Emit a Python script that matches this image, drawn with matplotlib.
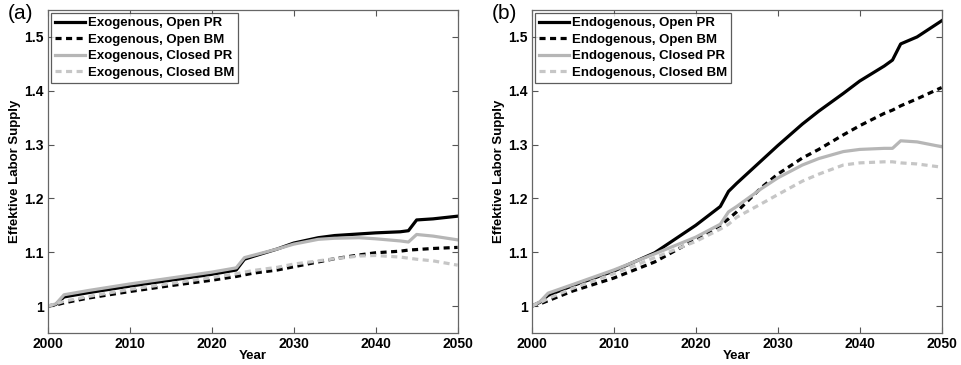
import numpy as np
import matplotlib
matplotlib.use('Agg')
import matplotlib.pyplot as plt

# Jahre der Stützpunkte
years = [2000, 2001, 2002, 2005, 2010, 2015, 2020, 2023, 2024, 2025, 2028,
         2030, 2033, 2035, 2038, 2040, 2043, 2044, 2045, 2047, 2050]

# (a) exogene Arbeitszeit
exo_open_pr = [1.0, 1.003, 1.017, 1.025, 1.037, 1.048, 1.059, 1.067, 1.087, 1.092, 1.106,
               1.117, 1.127, 1.131, 1.134, 1.136, 1.138, 1.140, 1.160, 1.162, 1.167]
exo_open_bm = [1.0, 1.002, 1.006, 1.015, 1.027, 1.038, 1.048, 1.055, 1.058, 1.061, 1.067,
               1.073, 1.082, 1.088, 1.095, 1.099, 1.102, 1.104, 1.105, 1.107, 1.109]
exo_closed_pr = [1.0, 1.004, 1.021, 1.029, 1.041, 1.052, 1.063, 1.071, 1.090, 1.094, 1.106,
                 1.115, 1.124, 1.126, 1.127, 1.125, 1.121, 1.119, 1.133, 1.130, 1.123]
exo_closed_bm = [1.0, 1.004, 1.009, 1.018, 1.031, 1.042, 1.053, 1.060, 1.063, 1.066, 1.072,
                 1.078, 1.084, 1.088, 1.093, 1.094, 1.091, 1.089, 1.087, 1.084, 1.076]

# (b) endogene Arbeitszeit
endo_open_pr = [1.0, 1.007, 1.020, 1.038, 1.065, 1.099, 1.150, 1.185, 1.213, 1.228, 1.270,
                1.298, 1.338, 1.362, 1.395, 1.418, 1.446, 1.457, 1.487, 1.500, 1.530]
endo_open_bm = [1.0, 1.004, 1.010, 1.028, 1.052, 1.082, 1.124, 1.150, 1.162, 1.175, 1.220,
                1.245, 1.275, 1.291, 1.318, 1.335, 1.358, 1.364, 1.372, 1.385, 1.406]
endo_closed_pr = [1.0, 1.008, 1.024, 1.040, 1.067, 1.097, 1.128, 1.152, 1.175, 1.185, 1.218,
                  1.238, 1.262, 1.274, 1.287, 1.291, 1.293, 1.293, 1.307, 1.305, 1.296]
endo_closed_bm = [1.0, 1.006, 1.014, 1.033, 1.060, 1.090, 1.120, 1.143, 1.152, 1.165, 1.190,
                  1.207, 1.232, 1.245, 1.262, 1.266, 1.268, 1.268, 1.266, 1.264, 1.258]

x_ticks = [2000, 2010, 2020, 2030, 2040, 2050]
y_ticks = [1.0, 1.1, 1.2, 1.3, 1.4, 1.5]
y_ticklabels = ['1', '1.1', '1.2', '1.3', '1.4', '1.5']

plt.rcParams['font.family'] = ['Liberation Sans', 'DejaVu Sans']

fig = plt.figure(figsize=(9.61, 3.65), dpi=100)
ax_a = fig.add_axes([0.0496, 0.0877, 0.4266, 0.8849])
ax_b = fig.add_axes([0.5533, 0.0877, 0.4266, 0.8849])

def draw_panel(ax, label, prefix, series):
    open_pr, open_bm, closed_pr, closed_bm = series
    lw = 2.3
    ax.plot(years, open_pr, color='black', lw=lw, label=prefix + ', Open PR')
    ax.plot(years, open_bm, color='black', lw=lw, dashes=(1.9, 1.4), label=prefix + ', Open BM')
    ax.plot(years, closed_pr, color='#b6b6b6', lw=lw, label=prefix + ', Closed PR')
    ax.plot(years, closed_bm, color='#c6c6c6', lw=lw, dashes=(1.9, 1.4), label=prefix + ', Closed BM')

    ax.set_xlim(2000, 2050)
    ax.set_ylim(0.95, 1.55)
    ax.set_xticks(x_ticks)
    ax.set_yticks(y_ticks)
    ax.set_yticklabels(y_ticklabels)
    ax.tick_params(direction='in', top=True, right=True, length=4, width=0.8,
                   color='#555555', labelsize=10, pad=3)
    for t in ax.get_xticklabels() + ax.get_yticklabels():
        t.set_fontweight('bold')
    for sp in ax.spines.values():
        sp.set_color('#666666')
        sp.set_linewidth(0.9)

    ax.set_xlabel('Year', fontsize=9.5, fontweight='bold', labelpad=-1)
    ax.set_ylabel('Effektive Labor Supply', fontsize=9.5, fontweight='bold', labelpad=2)

    leg = ax.legend(loc='upper left', frameon=True, fancybox=False,
                    borderaxespad=0.25, handlelength=2.3, handletextpad=0.2,
                    labelspacing=0.32, borderpad=0.3, prop={'weight': 'bold', 'size': 9.5})
    leg.get_frame().set_edgecolor('#333333')
    leg.get_frame().set_linewidth(0.9)

    ax.text(-0.098, 0.99, label, transform=ax.transAxes, fontsize=15,
            ha='left', va='center')

draw_panel(ax_a, '(a)', 'Exogenous', (exo_open_pr, exo_open_bm, exo_closed_pr, exo_closed_bm))
draw_panel(ax_b, '(b)', 'Endogenous', (endo_open_pr, endo_open_bm, endo_closed_pr, endo_closed_bm))

fig.savefig('out.png', dpi=100)
